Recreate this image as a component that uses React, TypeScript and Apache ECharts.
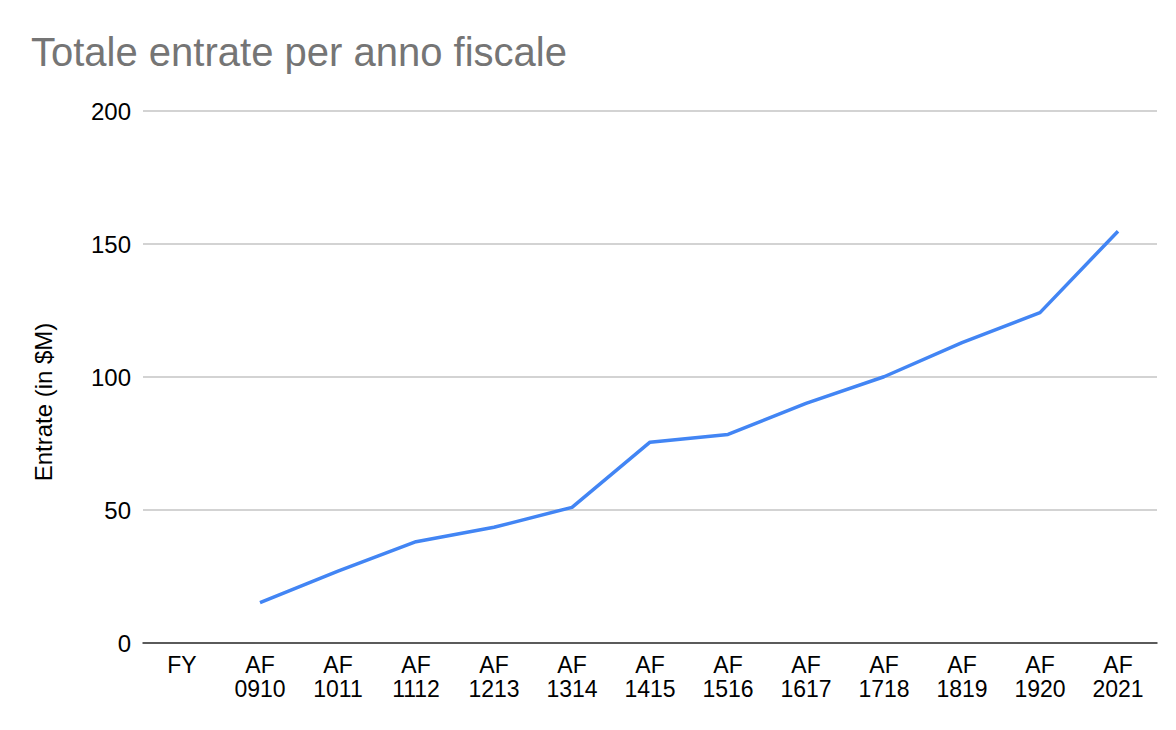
import React, { useEffect, useRef } from "react";
import * as echarts from "echarts";

const categories: string[] = [
  "FY",
  "AF\n0910",
  "AF\n1011",
  "AF\n1112",
  "AF\n1213",
  "AF\n1314",
  "AF\n1415",
  "AF\n1516",
  "AF\n1617",
  "AF\n1718",
  "AF\n1819",
  "AF\n1920",
  "AF\n2021",
];

const revenue: (number | null)[] = [
  null, 15.2, 27.0, 38.1, 43.5, 51.0, 75.5, 78.4, 90.1, 100.1, 112.9, 124.2, 154.8,
];

const yTicks = { min: 0, max: 200, interval: 50 };

const titleText = "Totale entrate per anno fiscale";
const yAxisName = "Entrate (in $M)";

export default function App() {
  const ref = useRef<HTMLDivElement>(null);

  useEffect(() => {
    if (!ref.current) return;
    const chart = echarts.init(ref.current, null, { renderer: "svg" });
    const font = "Arial, 'Liberation Sans', Helvetica, sans-serif";
    chart.setOption({
      animation: false,
      backgroundColor: "#ffffff",
      title: {
        text: titleText,
        left: 26,
        top: 27,
        textStyle: {
          fontFamily: font,
          fontSize: 40,
          fontWeight: "normal",
          color: "#757575",
        },
      },
      grid: {
        left: 143,
        right: 19,
        top: 111,
        bottom: 87,
        containLabel: false,
      },
      graphic: [
        {
          type: "text",
          x: 43,
          y: 402,
          rotation: Math.PI / 2,
          style: {
            text: yAxisName,
            fontFamily: font,
            fontSize: 24,
            fill: "#000000",
            align: "center",
            verticalAlign: "middle",
          },
        },
      ],
      xAxis: {
        type: "category",
        data: categories,
        boundaryGap: true,
        axisLine: { show: true, lineStyle: { color: "#333333", width: 1.5 } },
        axisTick: { show: false },
        axisLabel: {
          fontFamily: font,
          fontSize: 23,
          color: "#000000",
          margin: 10,
          lineHeight: 24,
          interval: 0,
        },
        splitLine: { show: false },
      },
      yAxis: {
        type: "value",
        min: yTicks.min,
        max: yTicks.max,
        interval: yTicks.interval,
        axisLine: { show: false },
        axisTick: { show: false },
        axisLabel: {
          fontFamily: font,
          fontSize: 24,
          color: "#000000",
          margin: 12,
        },
        splitLine: { show: true, lineStyle: { color: "#c4c4c4", width: 1.5 } },
      },
      series: [
        {
          type: "line",
          data: revenue,
          showSymbol: false,
          symbol: "none",
          connectNulls: false,
          lineStyle: { color: "#4285f4", width: 3.5 },
          itemStyle: { color: "#4285f4" },
        },
      ],
    });
    return () => chart.dispose();
  }, []);

  return <div ref={ref} style={{ width: 1176, height: 730, position: "absolute", left: 0, top: 0 }} />;
}
